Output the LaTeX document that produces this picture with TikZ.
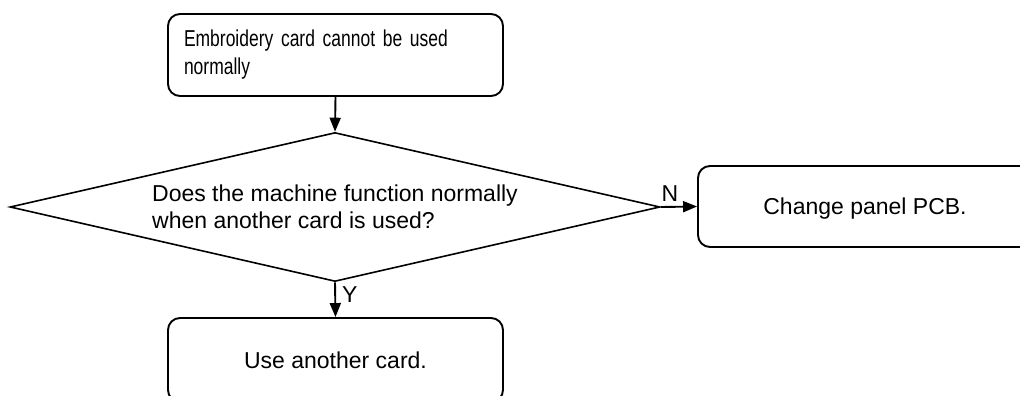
\documentclass[tikz,border=0pt]{standalone}
\usepackage{fontspec}
\setmainfont{Liberation Sans}
\newfontfamily\narrowfont{Liberation Sans}[FakeStretch=0.76]
\usetikzlibrary{shapes.geometric,arrows.meta}
\begin{document}
\begin{tikzpicture}[x=1pt,y=-1pt,line width=1.9pt,>={Triangle[length=14pt,width=11pt]},
  font=\fontsize{23}{27.5}\selectfont,
  stepbox/.style={draw,rounded corners=12pt,minimum width=335pt,inner sep=0pt},
  decision/.style={draw,diamond,aspect=4.36,minimum width=650pt,minimum height=149pt,inner sep=0pt,align=left,line width=1.6pt}]
  \useasboundingbox (0,0) rectangle (1020,396); \clip (0,0) rectangle (1020,396);
  \node[stepbox,minimum height=82pt,text width=303pt,align=left,font=\narrowfont\fontsize{23}{28}\selectfont] (start) at (335.5,55) {Embroidery card cannot be used\\normally};
  \node[decision] (q) at (335,207) {Does the machine function normally\\when another card is used?};
  \node[stepbox,minimum width=334pt,minimum height=81pt,text height=16.5pt,text depth=0pt] (change) at (865,206.5) {Change panel PCB.};
  \node[stepbox,minimum height=84pt,text height=16.5pt,text depth=0pt] (use) at (335.5,360) {Use another card.};
  \draw[->] (start.south) -- (q.north);
  \draw[->] (q.east) -- node[near start,above,inner sep=4pt] {N} (change.west);
  \draw[->] (q.south) -- node[pos=0.36,right,inner sep=6pt] {Y} (use.north);
\end{tikzpicture}
\end{document}
